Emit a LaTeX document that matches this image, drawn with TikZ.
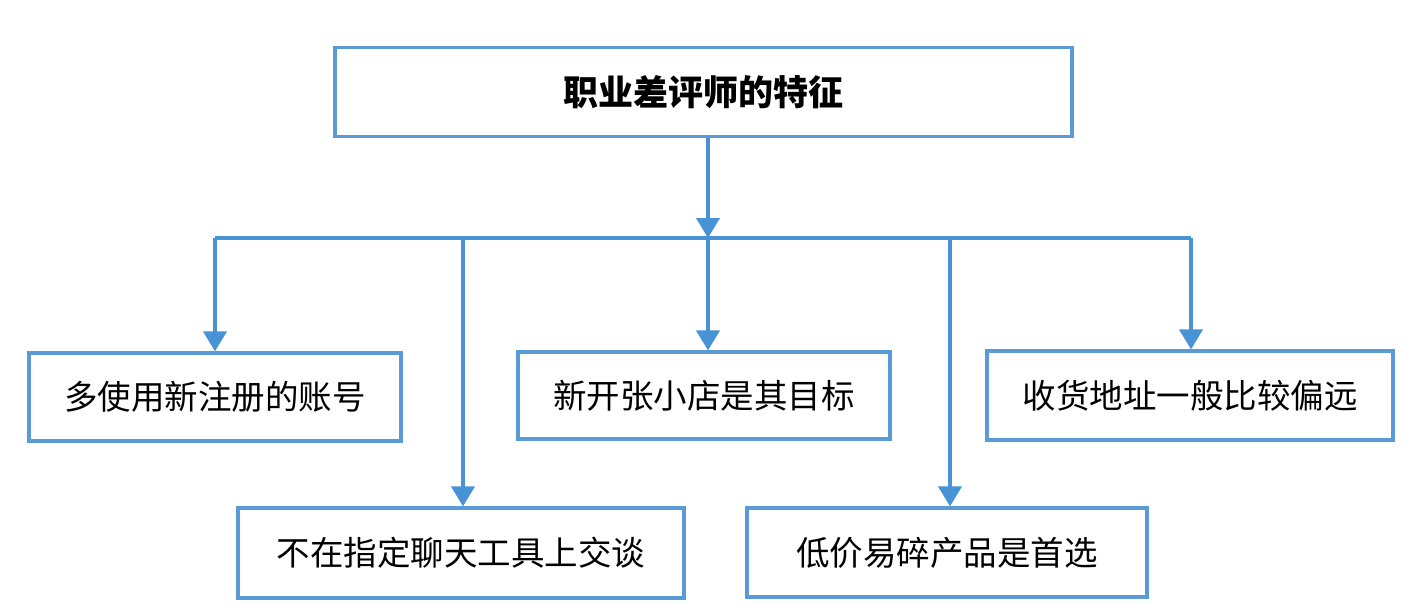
\documentclass[tikz,border=0pt]{standalone}
\usepackage{fontspec}
\setmainfont{Noto Sans CJK SC}
\newfontfamily\cjk{Noto Sans CJK SC}
\usetikzlibrary{arrows.meta}
\definecolor{boxblue}{RGB}{91,155,213}
\definecolor{lineblue}{RGB}{72,146,214}
\tikzset{
  itembox/.style={draw=boxblue, line width=3.2pt, rectangle, inner sep=0pt, fill=white,
    font=\cjk\fontsize{33.5}{38}\selectfont, text=black},
  titlebox/.style={itembox, font=\cjk\bfseries\fontsize{35}{40}\selectfont},
  conn/.style={draw=lineblue, line width=4pt},
  arr/.style={conn, -{Triangle[width=23pt,length=20pt]}},
}
\begin{document}
\begin{tikzpicture}[x=1pt,y=-1pt]
\useasboundingbox (0,0) rectangle (1422,610);
\node[titlebox, minimum width=737pt, minimum height=89pt] (t) at (703.5,92) {\raisebox{-5pt}{职业差评师的特征}};
\node[itembox, minimum width=372pt, minimum height=88pt] (n1) at (215,397) {多使用新注册的账号};
\node[itembox, minimum width=372pt, minimum height=87pt] (n2) at (704,395.5) {新开张小店是其目标};
\node[itembox, minimum width=406pt, minimum height=89pt] (n3) at (1190,395.5) {收货地址一般比较偏远};
\node[itembox, minimum width=446pt, minimum height=90pt] (n4) at (461,553) {不在指定聊天工具上交谈};
\node[itembox, minimum width=400pt, minimum height=89pt] (n5) at (947,552.5) {低价易碎产品是首选};
\coordinate (tb) at (708,137);
\coordinate (bc) at (708,238);
\coordinate (b1) at (215,238);
\coordinate (b4) at (463,238);
\coordinate (b2) at (708,238);
\coordinate (b5) at (950,238);
\coordinate (b3) at (1191,238);
\draw[conn] (b1) -- (b3);
\draw[arr] (tb) -- (bc);
\draw[arr] (b1) -- (b1 |- n1.north);
\draw[arr] (b4) -- (b4 |- n4.north);
\draw[arr] (b2) -- (b2 |- n2.north);
\draw[arr] (b5) -- (b5 |- n5.north);
\draw[arr] (b3) -- (b3 |- n3.north);
\end{tikzpicture}
\end{document}
